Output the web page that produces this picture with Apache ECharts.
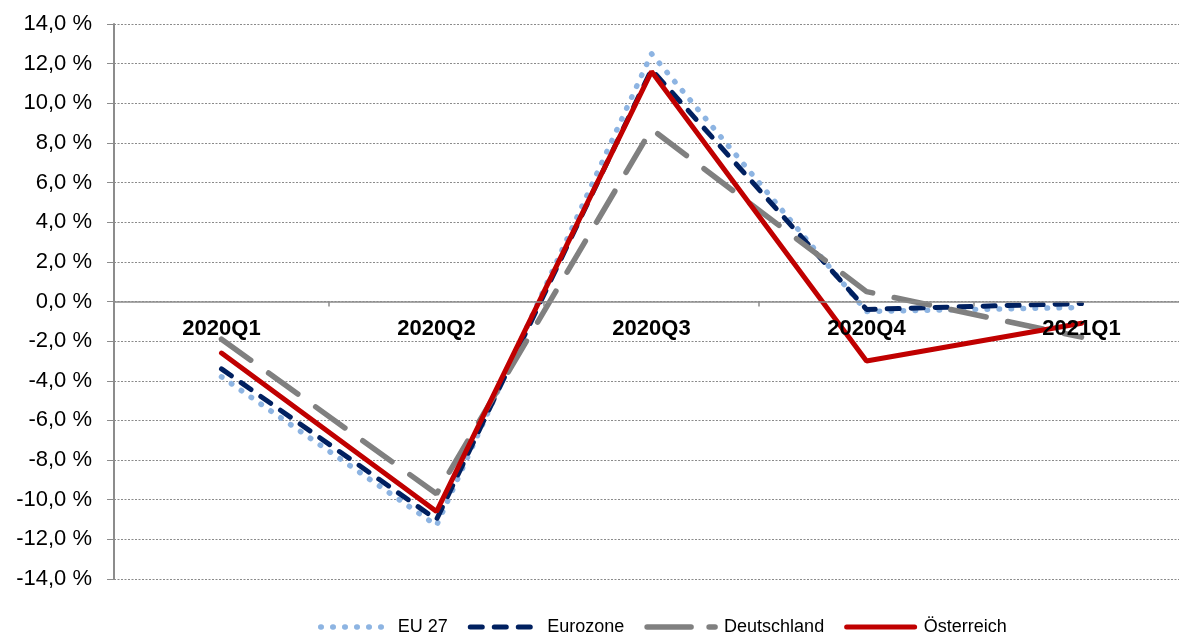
<!DOCTYPE html>
<html>
<head>
<meta charset="utf-8">
<script src="https://cdn.jsdelivr.net/npm/echarts@6/dist/echarts.min.js"></script>
<style>
html,body{margin:0;padding:0;background:#fff;}
#chart{width:1179px;height:632px;}
</style>
</head>
<body>
<div id="chart"></div>
<script>
const categories = ['2020Q1', '2020Q2', '2020Q3', '2020Q4', '2021Q1'];
const eu27 = [-3.8, -11.3, 12.5, -0.5, -0.3];
const eurozone = [-3.4, -11.0, 11.7, -0.4, -0.1];
const deutschland = [-1.9, -9.7, 8.7, 0.5, -1.8];
const oesterreich = [-2.6, -10.6, 11.6, -3.0, -1.1];
const seriesNames = ['EU 27', 'Eurozone', 'Deutschland', 'Österreich'];
const yMin = -14, yMax = 14, yStep = 2;

const styles = [
  { color: '#8db4e2', width: 5.5, type: [0.5, 11.5], cap: 'round' },
  { color: '#002060', width: 5, type: [12, 12], cap: 'round' },
  { color: '#808080', width: 5.5, type: [36, 22], cap: 'round' },
  { color: '#c00000', width: 5, type: 'solid', cap: 'round' }
];
const legendTypes = [[0.5, 11.5], [12, 12], [44, 18], 'solid'];
const seriesData = [eu27, eurozone, deutschland, oesterreich];

const chart = echarts.init(document.getElementById('chart'));
const font = 'Liberation Sans, Arial, sans-serif';
const gridTop = 24, gridHeight = 555;
const zeroOffset = gridHeight * (0 - yMin) / (yMax - yMin);

chart.setOption({
  animation: false,
  backgroundColor: '#ffffff',
  grid: { left: 114, top: gridTop, right: -10, height: gridHeight, containLabel: false, outerBoundsMode: 'none' },
  xAxis: {
    type: 'category',
    data: categories,
    boundaryGap: true,
    position: 'bottom',
    offset: -zeroOffset,
    z: 10,
    axisLine: { onZero: false, lineStyle: { color: '#8c8c8c', width: 1.5 } },
    axisTick: { show: true, length: 5, inside: false, lineStyle: { color: '#8c8c8c', width: 1.5 } },
    axisLabel: { margin: 16, color: '#000', fontFamily: font, fontSize: 22, fontWeight: 'bold' },
    splitLine: { show: false }
  },
  yAxis: {
    type: 'value',
    min: yMin, max: yMax, interval: yStep,
    axisLine: { show: true, onZero: false, lineStyle: { color: '#8c8c8c', width: 2 } },
    axisTick: { show: true, length: 7, lineStyle: { color: '#8c8c8c', width: 1 } },
    axisLabel: {
      margin: 22, color: '#000', fontFamily: font, fontSize: 22,
      formatter: v => v.toFixed(1).replace('.', ',') + ' %'
    },
    splitLine: { show: true, lineStyle: { color: '#8a8a8a', width: 1, type: [2, 1.5] } }
  },
  legend: {
    top: 613, left: 313,
    itemWidth: 68, itemHeight: 14, itemGap: 20,
    itemStyle: { opacity: 0 },
    textStyle: { fontFamily: font, fontSize: 18, color: '#000', padding: [0, 0, 0, 4] },
    data: seriesNames.map((n, i) => ({
      name: n,
      lineStyle: Object.assign({}, styles[i], { type: legendTypes[i] }),
      itemStyle: { opacity: 0 }
    }))
  },
  series: seriesNames.map((n, i) => ({
    name: n, type: 'line', data: seriesData[i], symbol: 'none', z: 2 + i,
    lineStyle: styles[i], itemStyle: { color: styles[i].color }
  }))
});
</script>
</body>
</html>
